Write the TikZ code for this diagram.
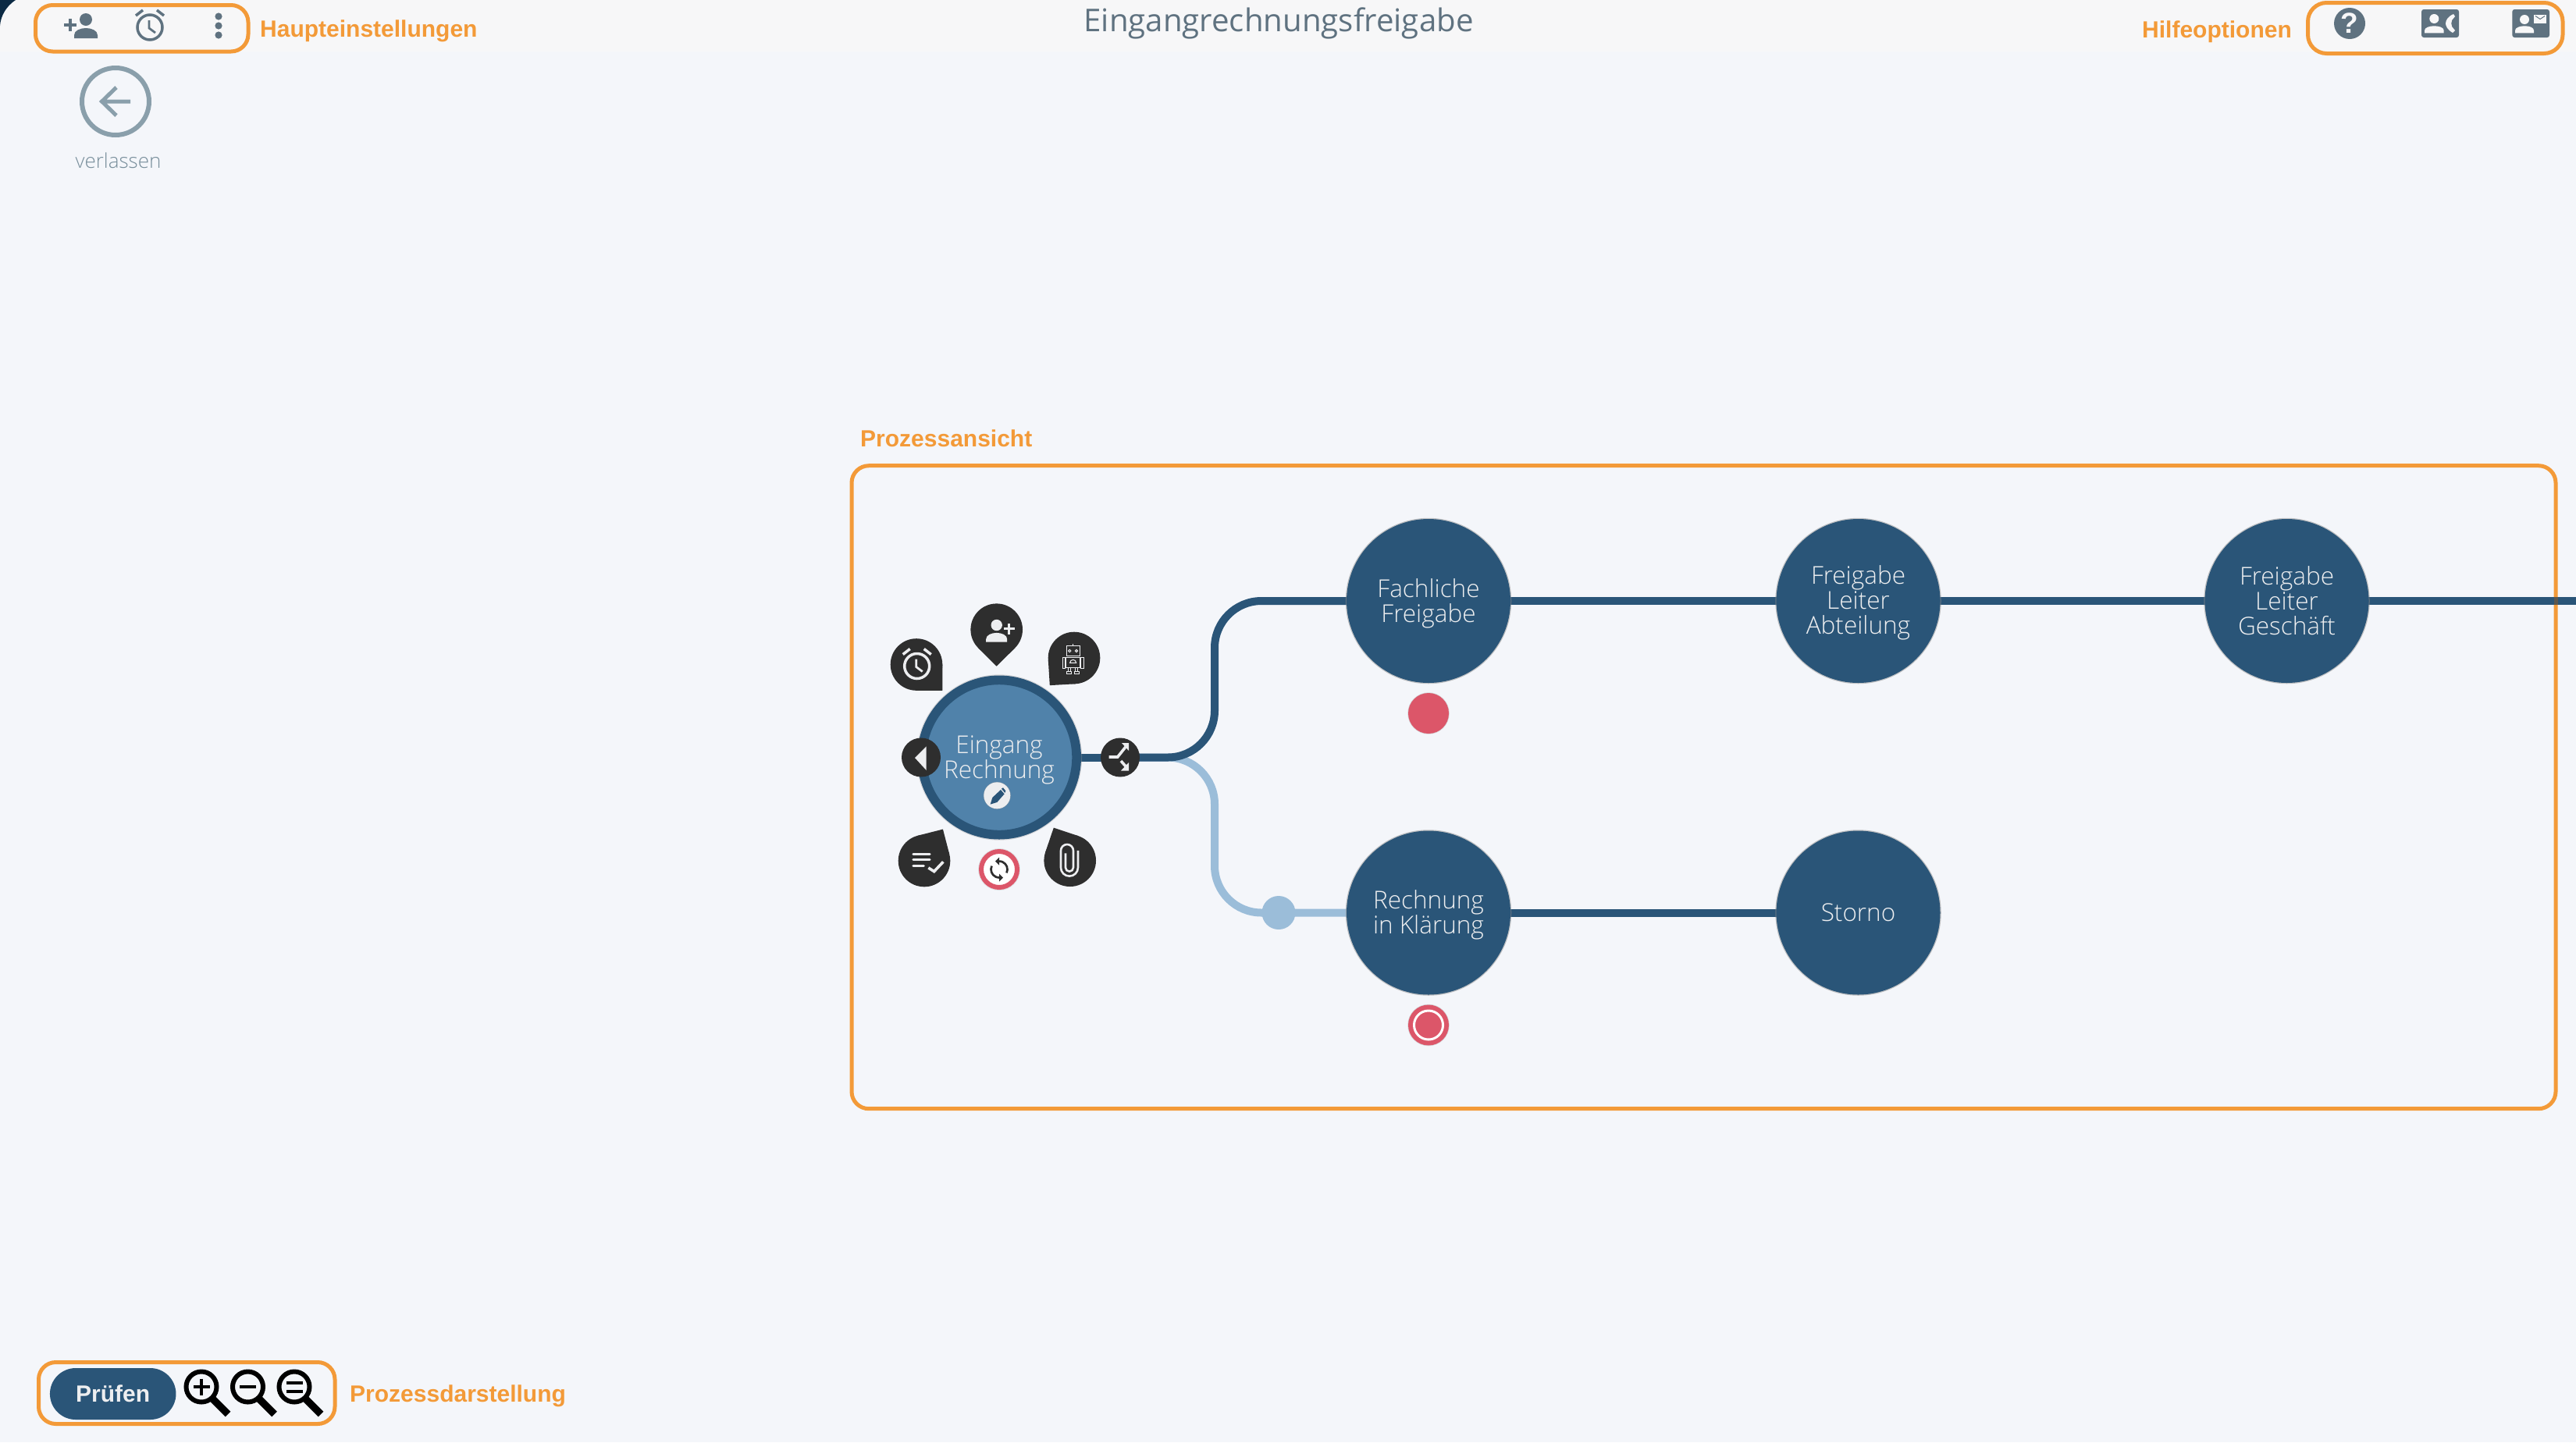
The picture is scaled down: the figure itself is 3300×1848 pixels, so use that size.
\documentclass[tikz,border=0pt]{standalone}
\usepackage{fontspec}
\usetikzlibrary{calc,arrows.meta}
\setmainfont{Liberation Sans}
\newfontfamily\lightf{Open Sans Light}
\newfontfamily\regf{Open Sans}
\definecolor{bgc}{HTML}{F4F6FA}
\definecolor{barc}{HTML}{F7F7F8}
\definecolor{orangec}{HTML}{F39A38}
\definecolor{iconc}{HTML}{5F7280}
\definecolor{backc}{HTML}{8A9FAB}
\definecolor{leavec}{HTML}{788E9B}
\definecolor{navy}{HTML}{2A5578}
\definecolor{midblue}{HTML}{5082AA}
\definecolor{lightblue}{HTML}{9BBDD9}
\definecolor{redc}{HTML}{DC5669}
\definecolor{darkc}{HTML}{2E2E2E}
\definecolor{whitec}{HTML}{EDEEF0}
\definecolor{cornerc}{HTML}{0C2A44}
\pgfdeclarelayer{bg}
\pgfsetlayers{bg,main}
\newcommand{\twol}{\rule{0pt}{30pt}}
\newcommand{\thrl}{\rule{0pt}{28pt}}
\tikzset{
  orangebox/.style={draw=orangec,line width=5pt,rounded corners=22pt},
  orangelabel/.style={text=orangec,font=\fontsize{30}{30}\selectfont\bfseries,anchor=base west,inner sep=0pt},
  proc/.style={circle,fill=navy,minimum size=210pt,inner sep=0pt,text=whitec,align=center,
    font=\lightf\fontsize{31.5}{32}\selectfont,
    preaction={draw=black!45,line width=2.5pt,opacity=.5}},
  flow/.style={draw=navy,line width=10pt},
  flowlight/.style={draw=lightblue,line width=10pt},
  btn/.style={circle,fill=darkc,minimum size=50pt,inner sep=0pt},
  pinnode/.style={circle,fill=darkc,minimum size=66.6pt,inner sep=0pt},
  pintip/.style={fill=darkc},
  reddot/.style={circle,fill=redc,minimum size=52pt,inner sep=0pt,preaction={draw=black!35,line width=1.5pt,opacity=.4}},
}
% person glyph: #1,#2 head centre, #3 colour, #4 scale
\newcommand{\personglyph}[4]{%
  \begin{scope}[shift={(#1,#2)},x=#4pt,y=-#4pt]
    \fill[#3] (0,0) circle[radius=8];
    \fill[#3] (-15,24) -- (-15,20) .. controls (-15,14) and (-7,11) .. (0,11) .. controls (7,11) and (15,14) .. (15,20) -- (15,24) -- cycle;
  \end{scope}}
% alarm clock: centre, colour
\newcommand{\alarmglyph}[3]{%
  \begin{scope}[shift={(#1,#2)},x=1pt,y=-1pt,line cap=butt]
    \draw[#3,line width=3.5pt] (0,0) circle[radius=16];
    \draw[#3,line width=3.5pt] (-18,-15) -- (-9,-22);
    \draw[#3,line width=3.5pt] (18,-15) -- (9,-22);
    \draw[#3,line width=2.8pt] (-1,-9) -- (-1,1) -- (7,7);
  \end{scope}}
\newcommand{\magglyph}[2]{%
  \begin{scope}[shift={(#1,#2)},x=1pt,y=-1pt]
    \draw[black,line width=6pt] (0,0) circle[radius=19.5];
    \draw[black,line width=9.5pt] (14,15) -- (34,35);
  \end{scope}}
\begin{document}
\begin{tikzpicture}[x=1pt,y=-1pt]
\useasboundingbox (0,0) rectangle (3300,1848);
\begin{pgfonlayer}{bg}
\fill[bgc] (0,0) rectangle (3300,1848);
\fill[barc] (0,0) rectangle (3300,66);
\fill[cornerc] (0,0) -- (20,0) .. controls (8,8) and (1,20) .. (0,33) -- cycle;
\end{pgfonlayer}

% title
\node[inner sep=0pt,anchor=base,text=iconc,font=\regf\fontsize{40.2}{40}\selectfont] (title) at (1638,40) {Eingangrechnungsfreigabe};

% top-left settings
\draw[orangebox] (45.5,6.5) rectangle (318,66);
\node[orangelabel] (lblhaupt) at (333,47) {Haupteinstellungen};
\begin{scope}
  \personglyph{110}{25}{iconc}{1}
  \draw[iconc,line width=3.5pt] (82,32) -- (98,32) (90,24) -- (90,40);
\end{scope}
\alarmglyph{192}{35}{iconc}
\foreach \yy in {21,33,45} \fill[iconc] (280,\yy) circle[radius=4.6];

% back button
\node[circle,draw=backc,line width=6pt,minimum size=86pt,inner sep=0pt] (back) at (148,130) {};
\draw[backc,line width=5pt] (back.center) ++(19,0) -- ++(-37,0) (149,112) -- (130.5,130) -- (149,148);
\node[inner sep=0pt,anchor=base,text=leavec,font=\lightf\fontsize{26}{26}\selectfont] (leave) at (151.5,215.5) {verlassen};

% help options
\draw[orangebox,rounded corners=24pt] (2956.5,3.5) rectangle (3283,68.5);
\node[orangelabel] (lblhilfe) at (2744,48) {Hilfeoptionen};
\node[circle,fill=iconc,minimum size=40pt,inner sep=0pt,text=barc,font=\fontsize{37}{37}\selectfont\bfseries] (help) at (3010,30) {?};
\fill[iconc,rounded corners=3pt] (3102,12) rectangle (3150,48);
\fill[barc] (3118.3,24) circle[radius=6];
\fill[barc] (3106,42.3) -- (3106,39) .. controls (3106,35) and (3113,33.3) .. (3118.3,33.3) .. controls (3124,33.3) and (3130.7,35) .. (3130.7,39) -- (3130.7,42.3) -- cycle;
\fill[barc] (3143,18) -- (3145,21) -- (3141,26) .. controls (3140,29) and (3140,31) .. (3141,34) -- (3145,39) -- (3142,42) .. controls (3135,38) and (3133,33) .. (3133,30) .. controls (3133,26) and (3136,21) .. (3143,18) -- cycle;
\fill[iconc,rounded corners=3pt] (3218.3,12) rectangle (3266,48);
\fill[barc] (3234,25) circle[radius=6];
\fill[barc] (3222,42.3) -- (3222,39) .. controls (3222,35) and (3229,33.3) .. (3234,33.3) .. controls (3240,33.3) and (3246,35) .. (3246,39) -- (3246,42.3) -- cycle;
\fill[barc] (3246,18.7) rectangle (3262,30);
\draw[iconc,line width=1pt] (3248,20.5) -- (3254,24.5) -- (3260,20.5);

% process box
\node[orangelabel] (lblproz) at (1102,572.5) {Prozessansicht};
\begin{pgfonlayer}{bg}
\draw[orangebox] (1091,596.7) rectangle (3274,1420.7);
\end{pgfonlayer}

% process nodes
\node[proc] (n1) at (1830,770) {\twol Fachliche\\Freigabe};
\node[proc] (n2) at (2380.5,770) {\thrl Freigabe\\Leiter\\Abteilung};
\node[proc] (n3) at (2929.5,770) {Freigabe\\Leiter\\Geschäft};
\node[proc] (n4) at (1830,1169.5) {\twol Rechnung\\in Klärung};
\node[proc] (n5) at (2380.5,1169.5) {Storno};
\coordinate (endr) at (3300,770);

\node[reddot] (dot1) at (1830,914) {};
\node[reddot] (dot2) at (1830,1313.5) {};
\draw[white,line width=3pt] (dot2.center) circle[radius=18.5];

% start node
\node[circle,fill=midblue,draw=navy,line width=11.7pt,minimum size=198.3pt,inner sep=0pt,text=whitec,align=center,
  font=\lightf\fontsize{31.5}{32}\selectfont,preaction={draw=black!40,line width=14pt,opacity=.35}] (start) at (1280,970.5) {\twol Eingang\\Rechnung};
\node[btn] (left) at (1180,970.5) {};
\fill[whitec] (1172,971) -- (1186.7,956.3) -- (1186.7,987) -- cycle;
\node[btn] (split) at (1435,970.5) {};
\draw[whitec,line width=3.6pt] (1420.7,970) -- (1431.7,970) -- (1442,957);
\fill[whitec] (1437,952) -- (1446,952) -- (1446,962) -- cycle;
\draw[whitec,line width=3.6pt] (1436,975) -- (1443,983);
\fill[whitec] (1446,977) -- (1446,987.5) -- (1436,987.5) -- cycle;

% flows
\coordinate (bend) at (1556,970.5);
\node[circle,fill=lightblue,minimum size=43pt,inner sep=0pt] (join) at (1638,1169.5) {};
\begin{pgfonlayer}{bg}
\draw[flowlight,rounded corners=60pt] (split.center) -- (bend) -- (bend |- n4) -- (n4.center);
\draw[flow,rounded corners=60pt] (split.center) -- (bend) -- (bend |- n1) -- (n1.center);
\draw[flow] (start.center) -- (split.center);
\draw[flow] (n1.center) -- (n2.center);
\draw[flow] (n2.center) -- (n3.center);
\draw[flow] (n3.center) -- (endr);
\draw[flow] (n4.center) -- (n5.center);
\end{pgfonlayer}
\draw[brown!70!black,opacity=.55,line width=5pt] (3274,765) -- (3274,775);

% pins
\node[pinnode] (pinp) at (1276.7,806.7) {};
\fill[pintip,shift={(pinp.center)},rotate=-90] (47pt,0pt) -- (23.55pt,23.55pt) -- (23.55pt,-23.55pt) -- cycle;
\node[pinnode] (pinr) at (1376,843) {};
\fill[pintip,shift={(pinr.center)},rotate=228.4] (47pt,0pt) -- (23.55pt,23.55pt) -- (23.55pt,-23.55pt) -- cycle;
\node[pinnode] (pina) at (1174,851.5) {};
\fill[pintip,shift={(pina.center)},rotate=-45] (47pt,0pt) -- (23.55pt,23.55pt) -- (23.55pt,-23.55pt) -- cycle;
\node[pinnode] (pinn) at (1184,1103) {};
\fill[pintip,shift={(pinn.center)},rotate=59.4] (47pt,0pt) -- (23.55pt,23.55pt) -- (23.55pt,-23.55pt) -- cycle;
\node[pinnode] (pinc) at (1370.7,1102.7) {};
\fill[pintip,shift={(pinc.center)},rotate=116.4] (47pt,0pt) -- (23.55pt,23.55pt) -- (23.55pt,-23.55pt) -- cycle;

% icons in pins
\personglyph{1276.7}{801}{whitec}{.9}
\draw[whitec,line width=3pt] (1286,805.7) -- (1299.5,805.7) (1292.7,799) -- (1292.7,812.5);
\alarmglyph{1174.7}{853.5}{whitec}
% robot, in 3x coordinates of the crop at (1100,740)
\begin{scope}[shift={(1100,740)},x=.3333pt,y=-.3333pt,line width=1pt]
  \draw[whitec] (800,263) rectangle (850,302);
  \draw[whitec] (824,263) -- (824,256);
  \draw[whitec] (811,282) circle[radius=5] (837,282) circle[radius=5];
  \draw[whitec] (797,308) rectangle (852,345);
  \draw[whitec] (812,328) arc[start angle=180,end angle=360,radius=12] -- cycle;
  \draw[whitec] (784,308) rectangle (795,348) (854,308) rectangle (865,348);
  \draw[whitec] (805,345) rectangle (815,362) (833,345) rectangle (843,362);
  \draw[whitec] (800,362) rectangle (818,370) (830,362) rectangle (848,370);
\end{scope}
% note check
\begin{scope}[shift={(1100,740)},x=.3333pt,y=-.3333pt]
  \draw[whitec,line width=3.3pt,line cap=round] (210,1063) -- (273,1063) (210,1085) -- (273,1085) (210,1108) -- (250,1108);
  \draw[whitec,line width=3.6pt] (268,1116) -- (290,1130) -- (325,1093);
\end{scope}
% paper clip
\begin{scope}[shift={(1100,740)},x=.3333pt,y=-.3333pt]
  \draw[whitec,line width=2.6pt] (843,1050) -- (843,1115) arc[start angle=0,end angle=180,radius=33] -- (777,1050)
     arc[start angle=180,end angle=360,radius=24] -- (825,1115) arc[start angle=0,end angle=180,radius=15] -- (795,1060);
\end{scope}
% sync
\node[circle,fill=white,draw=redc,line width=6pt,minimum size=46pt,inner sep=0pt,preaction={draw=black!35,line width=8pt,opacity=.25}] (sync) at (1280,1114) {};
\begin{scope}[shift={(sync.center)},x=1pt,y=1pt]
  \draw[darkc,line width=2.7pt] (-25:10.5) arc[start angle=-25,end angle=95,radius=10.5];
  \fill[darkc] (-5,10.5) -- (0,15.5) -- (0,5.5) -- cycle;
  \draw[darkc,line width=2.7pt] (155:10.5) arc[start angle=155,end angle=275,radius=10.5];
  \fill[darkc] (5,-10.5) -- (0,-15.5) -- (0,-5.5) -- cycle;
\end{scope}
% pencil
\node[circle,fill=whitec,minimum size=34pt,inner sep=0pt,preaction={draw=black!40,line width=1pt,opacity=.5}] (edit) at (1277.3,1019.3) {};
\begin{scope}[shift={(1100,740)},x=.3333pt,y=-.3333pt]
  \fill[navy] (506,872) -- (514,846) -- (546,816) -- (560,832) -- (532,864) -- cycle;
  \fill[navy] (549,812) -- (555,808) -- (565,820) -- (562,828) -- cycle;
\end{scope}

% bottom tools
\draw[orangebox] (49.5,1745.5) rectangle (429,1824.5);
\node[orangelabel] (lbldar) at (448,1796.5) {Prozessdarstellung};
\node[rounded corners=33pt,fill=navy,minimum width=161.5pt,minimum height=66pt,inner sep=0pt,text=whitec,font=\fontsize{30}{30}\selectfont\bfseries] (check) at (144.7,1786) {Prüfen};
\magglyph{258}{1777}
\draw[black,line width=4.5pt] (247.5,1777) -- (268.5,1777) (258,1766.5) -- (258,1787.5);
\magglyph{317.5}{1777}
\draw[black,line width=4.5pt] (307,1777) -- (328,1777);
\magglyph{377}{1777}
\draw[black,line width=4pt] (366.5,1771.5) -- (387.5,1771.5) (366.5,1782.5) -- (387.5,1782.5);
\end{tikzpicture}
\end{document}
